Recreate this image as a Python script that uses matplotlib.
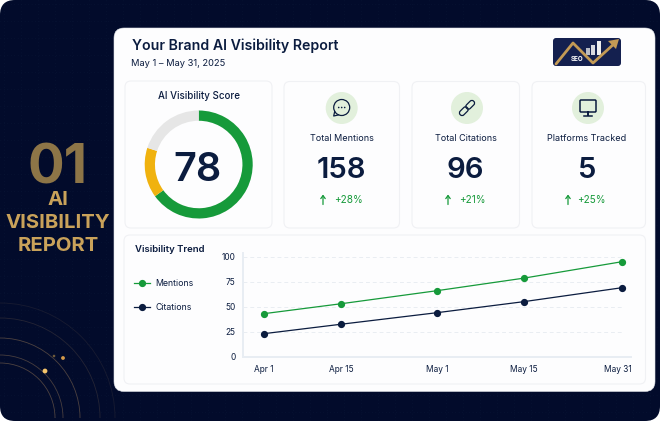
import matplotlib
matplotlib.use("Agg")
import matplotlib.pyplot as plt
from matplotlib.patches import FancyBboxPatch, Circle, Arc, Rectangle, Polygon
from matplotlib.transforms import Affine2D, ScaledTranslation

plt.rcParams["font.family"] = ["Inter", "DejaVu Sans"]

W = 660
H = 421

# Dane z wykresu
dni = [0, 13, 29, 43.5, 60]
etykiety_x = ["Apr 1", "Apr 15", "May 1", "May 15", "May 31"]
mentions = [43, 53, 66, 78.5, 95]
citations = [23, 32.5, 44, 55, 69]
yticks = [0, 25, 50, 75, 100]

gauge_wartosci = [65, 15, 20]
gauge_kolory = ["#169a3a", "#f0b20f", "#e6e6e6"]
score = "78"

kafle_nazwy = ["Total Mentions", "Total Citations", "Platforms Tracked"]
kafle_liczby = ["158", "96", "5"]
kafle_zmiany = ["+28%", "+21%", "+25%"]

GRANAT = "#0b1c3f"
ZIELONY = "#169a3a"
ZLOTY = "#c9a25a"
TLO = "#020b2b"

fig = plt.figure(figsize=(W / 100, H / 100), dpi=100, facecolor="white")

# Warstwa w pikselach, y rośnie w dół jak na obrazku
bg = fig.add_axes([0, 0, 1, 1], zorder=0)
bg.set_xlim(0, W)
bg.set_ylim(H, 0)
bg.axis("off")


def px_axes(x0, y0, x1, y1, zorder=2):
    return fig.add_axes([x0 / W, 1 - y1 / H, (x1 - x0) / W, (y1 - y0) / H], zorder=zorder)


def karta(x0, y0, x1, y1, r, fc, ec, lw=0.8, z=2):
    p = FancyBboxPatch((x0 + r, y0 + r), x1 - x0 - 2 * r, y1 - y0 - 2 * r,
                       boxstyle="round,pad=%f,rounding_size=%f" % (r, r),
                       fc=fc, ec=ec, lw=lw, zorder=z)
    bg.add_patch(p)
    return p


# Ciemne tło z kropkowaną siatką i łukami
tlo = karta(0, 0, W, H, 15, TLO, "none", 0, 1)
for x in range(4, W, 17):
    bg.plot([x, x], [0, H], color="#0a1736", lw=0.5, ls=(0, (1, 4)), zorder=1.1)[0].set_clip_path(tlo)
for y in range(4, H, 17):
    bg.plot([0, W], [y, y], color="#0a1736", lw=0.5, ls=(0, (1, 4)), zorder=1.1)[0].set_clip_path(tlo)

for r, a in [(55, 0.35), (63, 0.32), (80, 0.35), (100, 0.16), (115, 0.1)]:
    bg.add_patch(Arc((0, 418), 2 * r, 2 * r, theta1=270, theta2=360, color="#d8a868", lw=0.6, alpha=a, zorder=1.2))
bg.add_patch(Circle((45, 371), 2.4, fc="#f5c56b", ec="none", zorder=1.3))
bg.add_patch(Circle((63, 358), 1.9, fc="#d49a4a", ec="none", zorder=1.3))
bg.add_patch(Circle((54, 356), 1.3, fc="#6e5a3c", ec="none", zorder=1.3))

# Lewy napis
bg.text(57, 163, "01", color="#8d7547", fontsize=39, fontweight="bold",
        ha="center", va="center_baseline", zorder=3)
for y, s in [(200, "AI"), (223, "VISIBILITY"), (246, "REPORT")]:
    bg.text(58, y, s, color=ZLOTY, fontsize=14.6, fontweight="bold",
            ha="center", va="center", zorder=3)

# Główna karta
karta(114, 28, 655, 391.5, 10, "#fdfdfe", "#dfe2e7", 0.4, 2)
bg.text(132, 46, "Your Brand AI Visibility Report", color=GRANAT, fontsize=10.2, fontweight="semibold",
        va="center", zorder=3)
bg.text(131, 64, "May 1 \u2013 May 31, 2025", color=GRANAT, fontsize=6.7, va="center", zorder=3)

# Logo
karta(553, 38, 621, 66, 3, "#14204f", "none", 0, 3)
for x, h, c in [(588, 7, "#b9bcc6"), (593, 10, "#d8d9de"), (599, 14, "#eeeeee")]:
    bg.add_patch(Rectangle((x - 1.6, 55 - h), 3.2, h, fc=c, ec="none", zorder=3.5))
bg.plot([556, 573, 593, 615], [64, 43, 63, 43], color="#c39a55", lw=2, zorder=4, solid_capstyle="round")
bg.add_patch(Polygon([[619, 39], [608, 41], [616, 49]], fc="#c39a55", ec="none", zorder=4))
bg.text(577, 59, "SEO", color="white", fontsize=4.5, fontweight="bold", ha="center", va="center", zorder=5)

# Karty
karta(125, 81, 272, 228, 6, "#fdfdfe", "#f0f1f4")
karta(284, 81.5, 399.5, 228, 6, "#fdfdfe", "#f0f1f4")
karta(412, 81.5, 519.5, 228, 6, "#fdfdfe", "#f0f1f4")
karta(532, 81.5, 645.5, 228, 6, "#fdfdfe", "#f0f1f4")
karta(124, 235, 645.5, 384, 6, "#fdfdfe", "#f0f1f4")

# Pierścień wyniku
bg.text(198.5, 96, "AI Visibility Score", color=GRANAT, fontsize=7, fontweight="medium",
        ha="center", va="center", zorder=3)
ax_g = px_axes(144.7, 110.5, 252.7, 218.5, 3)
ax_g.pie(gauge_wartosci, colors=gauge_kolory, startangle=90, counterclock=False, radius=1,
         wedgeprops={"width": 0.19})
ax_g.set_xlim(-1, 1)
ax_g.set_ylim(-1, 1)
bg.text(197.5, 170.5, score, color=GRANAT, fontsize=28.5, fontweight="semibold", ha="center", va="center", zorder=4)

# Kafle z liczbami
srodki = [341.5, 465.5, 587]
ikony_x = [341.7, 467, 588]
strzalki_x = [323, 448, 568]
zmiany_x = [348, 472, 591]
for i in range(3):
    bg.add_patch(Circle((ikony_x[i], 108), 16, fc="#e2f0dc", ec="none", zorder=3))
    bg.text(srodki[i], 138.5, kafle_nazwy[i], color=GRANAT, fontsize=6.5, ha="center", va="center", zorder=3)
    bg.text(srodki[i], 171, kafle_liczby[i], color=GRANAT, fontsize=21, fontweight="semibold",
            ha="center", va="center", zorder=3)
    bg.text(zmiany_x[i], 200, kafle_zmiany[i], color=ZIELONY, fontsize=7.2, ha="center", va="center", zorder=3)
    bg.annotate("", xy=(strzalki_x[i], 194.5), xytext=(strzalki_x[i], 204.5),
                arrowprops=dict(arrowstyle="->,head_width=0.16,head_length=0.22", color=ZIELONY, lw=0.9,
                                shrinkA=0, shrinkB=0), zorder=3)

# Ikona: dymek
cx, cy = ikony_x[0], 108
bg.add_patch(Circle((cx, cy - 0.5), 8, fc="none", ec=GRANAT, lw=0.9, zorder=4))
bg.plot([cx - 7, cx - 8, cx - 3.5], [cy + 3.5, cy + 8, cy + 7], color=GRANAT, lw=0.9, zorder=4)
for dx in [-3, 0, 3]:
    bg.add_patch(Circle((cx + dx, cy - 0.5), 0.8, fc=GRANAT, ec="none", zorder=4))

# Ikona: łańcuch, dwa obrócone ogniwa
cx, cy = ikony_x[1], 108
for dx, dy in [(-3.2, 3.2), (3.2, -3.2)]:
    obrot = Affine2D().rotate_deg_around(cx + dx, cy + dy, -45) + bg.transData
    bg.add_patch(FancyBboxPatch((cx + dx - 5, cy + dy - 2.6), 10, 5.2, boxstyle="round,pad=0,rounding_size=2.5",
                                fc="none", ec=GRANAT, lw=0.9, zorder=4, transform=obrot))

# Ikona: monitor
cx, cy = ikony_x[2], 108
bg.add_patch(FancyBboxPatch((cx - 8, cy - 8), 16, 12, boxstyle="round,pad=0,rounding_size=1",
                            fc="none", ec=GRANAT, lw=1.1, zorder=4))
bg.plot([cx, cx], [cy + 4, cy + 7], color=GRANAT, lw=1.4, zorder=4)
bg.plot([cx - 4, cx + 4], [cy + 8, cy + 8], color=GRANAT, lw=1.1, zorder=4)

# Wykres trendu
bg.text(135, 249, "Visibility Trend", color=GRANAT, fontsize=6.9, fontweight="semibold", va="center", zorder=3)
ax = px_axes(243, 252.7, 631, 356.7, 3)
ax.patch.set_alpha(0)
ax.plot(dni, mentions, color=ZIELONY, lw=0.9, marker="o", ms=4.2, label="Mentions")
ax.plot(dni, citations, color=GRANAT, lw=0.9, marker="o", ms=4.2, label="Citations")
ax.set_xlim(-3.47, 61.5)
ax.set_ylim(0, 104)
ax.set_xticks(dni, etykiety_x)
ax.set_yticks(yticks)
ax.tick_params(length=0, labelsize=6, labelcolor=GRANAT)
ax.tick_params(axis="x", pad=6)
ax.tick_params(axis="y", pad=5.5)
# Ostatnia etykieta jest w oryginale przesunięta w lewo
ostatnia = ax.get_xticklabels()[-1]
ostatnia.set_transform(ostatnia.get_transform() + ScaledTranslation(-4 / 100, 0, fig.dpi_scale_trans))
ax.hlines(yticks[1:], -3.47, 60.2, color="#e9edf2", lw=0.7, ls=(0, (4, 3)), zorder=0)
for s in ["top", "right"]:
    ax.spines[s].set_visible(False)
for s in ["left", "bottom"]:
    ax.spines[s].set_color("#e8edf3")
    ax.spines[s].set_linewidth(1.4)
ax.legend(loc="upper left", bbox_to_anchor=(134 / W, 1 - 279 / H), bbox_transform=fig.transFigure,
          frameon=False, fontsize=6.3, labelcolor=GRANAT, handlelength=1.83, handletextpad=0.6,
          labelspacing=1.67, borderpad=0, borderaxespad=0)

fig.savefig("out.png", dpi=100)
